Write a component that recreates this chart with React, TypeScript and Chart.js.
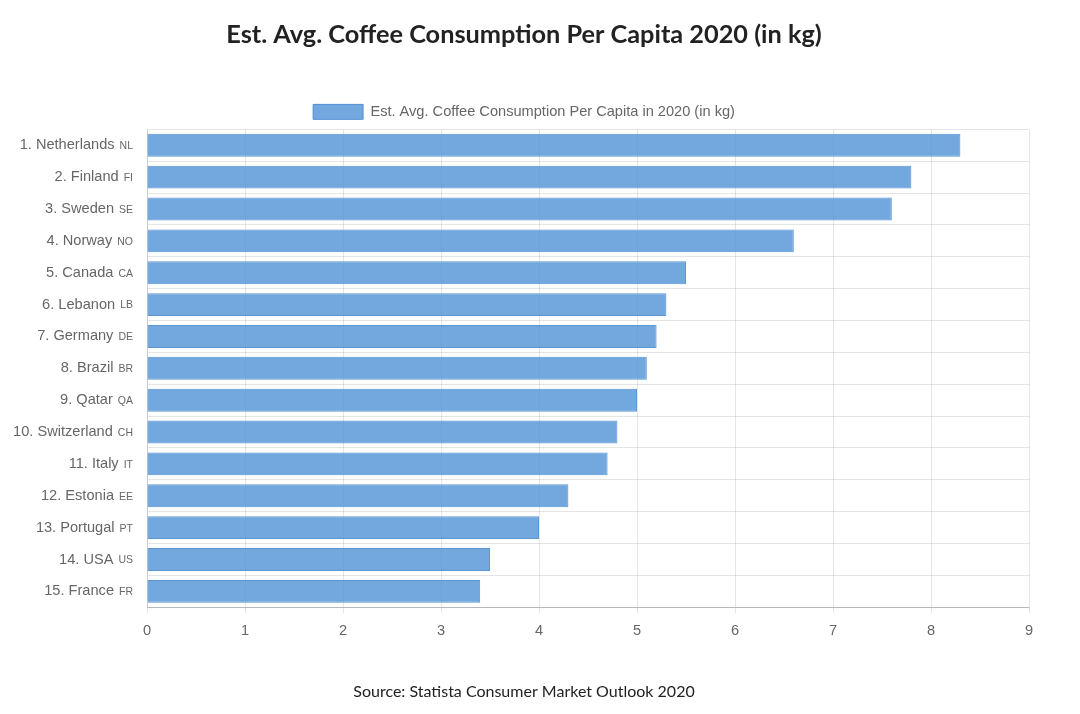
import React, { useEffect, useRef } from "react";
import { Chart, registerables } from "chart.js";

Chart.register(...registerables);

const countries = [
  "1. Netherlands", "2. Finland", "3. Sweden", "4. Norway", "5. Canada",
  "6. Lebanon", "7. Germany", "8. Brazil", "9. Qatar", "10. Switzerland",
  "11. Italy", "12. Estonia", "13. Portugal", "14. USA", "15. France",
];
const codes = ["NL", "FI", "SE", "NO", "CA", "LB", "DE", "BR", "QA", "CH", "IT", "EE", "PT", "US", "FR"];
const consumption = [8.3, 7.8, 7.6, 6.6, 5.5, 5.3, 5.2, 5.1, 5.0, 4.8, 4.7, 4.3, 4.0, 3.5, 3.4];

const titleText = "Est. Avg. Coffee Consumption Per Capita 2020 (in kg)";
const seriesLabel = "Est. Avg. Coffee Consumption Per Capita in 2020 (in kg)";
const sourceText = "Source: Statista Consumer Market Outlook 2020";

const FONT = "'Liberation Sans', Arial, Helvetica, sans-serif";

const labelPlugin = {
  id: "codeLabels",
  afterDraw(chart: any) {
    const scale = chart.scales.y;
    const ctx = chart.ctx;
    const right = chart.chartArea.left - 14;
    ctx.save();
    ctx.textBaseline = "middle";
    ctx.fillStyle = "#666";
    countries.forEach((name, i) => {
      const y = scale.getPixelForTick(i);
      ctx.font = `10.5px ${FONT}`;
      ctx.textAlign = "right";
      const code = codes[i];
      ctx.fillText(code, right, y + 1);
      const cw = ctx.measureText(code).width;
      ctx.font = `14.6px ${FONT}`;
      ctx.fillText(name, right - cw - 5, y);
    });
    ctx.restore();
  },
};

export default function App() {
  const ref = useRef<HTMLCanvasElement>(null);
  useEffect(() => {
    document.body.style.margin = "0";
    const chart = new Chart(ref.current!, {
      type: "bar",
      data: {
        labels: countries,
        datasets: [
          {
            label: seriesLabel,
            data: consumption,
            backgroundColor: "rgba(79,146,214,0.8)",
            borderColor: "rgba(74,140,210,0.9)",
            borderWidth: 1,
            categoryPercentage: 0.8,
            barPercentage: 0.9,
          },
        ],
      },
      options: {
        indexAxis: "y",
        animation: false,
        responsive: false,
        devicePixelRatio: 1,
        layout: { padding: { left: 19, right: 51, top: 0, bottom: 0 } },
        plugins: {
          title: {
            display: true,
            text: titleText,
            color: "#222",
            font: { family: "Lato", size: 25.3, weight: "bold" },
            padding: { top: 20, bottom: 43 },
          },
          subtitle: {
            display: true,
            position: "bottom",
            text: sourceText,
            color: "#222",
            font: { family: "Lato", size: 16, weight: "normal" },
            padding: { top: 33, bottom: 13 },
          },
          legend: {
            labels: {
              boxWidth: 50,
              boxHeight: 15,
              padding: 11,
              color: "#666",
              font: { family: FONT, size: 14.6 },
            },
          },
          tooltip: { enabled: false },
        },
        scales: {
          x: {
            min: 0,
            max: 9,
            ticks: {
              stepSize: 1,
              color: "#666",
              font: { family: FONT, size: 14.6 },
              padding: 9,
            },
            grid: { color: "rgba(0,0,0,0.1)", tickLength: 6 },
            border: { color: "rgba(0,0,0,0.2)" },
          },
          y: {
            ticks: { color: "rgba(0,0,0,0)", font: { size: 14 } },
            grid: { color: "rgba(0,0,0,0.1)", offset: true, drawTicks: false },
            border: { color: "rgba(0,0,0,0.1)" },
            afterFit: (scale: any) => {
              scale.width = 128;
            },
          },
        },
      },
      plugins: [labelPlugin],
    });
    return () => chart.destroy();
  }, []);
  return (
    <div style={{ position: "absolute", left: 0, top: 0, width: 1080, height: 714 }}>
      <canvas ref={ref} width={1080} height={714} />
    </div>
  );
}
